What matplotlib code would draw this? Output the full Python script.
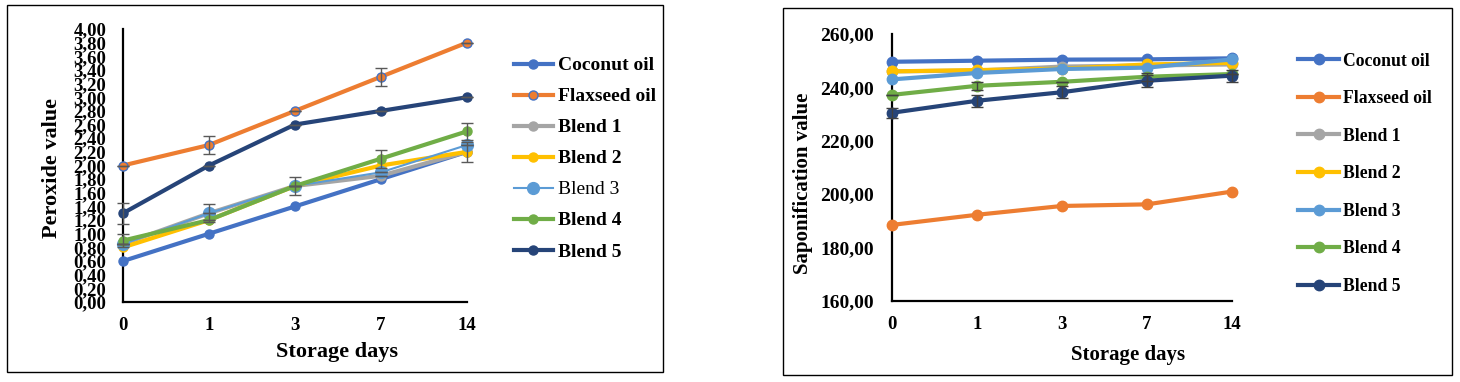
import matplotlib.pyplot as plt
from matplotlib.patches import Rectangle

plt.rcParams['font.family'] = ['Liberation Serif', 'DejaVu Serif']

# shared categories
days = ['0', '1', '3', '7', '14']
series = ['Coconut oil', 'Flaxseed oil', 'Blend 1', 'Blend 2', 'Blend 3', 'Blend 4', 'Blend 5']
colors = ['#4472C4', '#ED7D31', '#A5A5A5', '#FFC000', '#5B9BD5', '#70AD47', '#264478']

# peroxide value
perox_coconut = [0.60, 1.00, 1.40, 1.80, 2.20]
perox_flax = [2.00, 2.30, 2.80, 3.30, 3.80]
perox_b1 = [0.85, 1.30, 1.70, 1.85, 2.20]
perox_b2 = [0.80, 1.20, 1.70, 2.00, 2.20]
perox_b3 = [0.85, 1.30, 1.70, 1.90, 2.30]
perox_b4 = [0.90, 1.20, 1.70, 2.10, 2.50]
perox_b5 = [1.30, 2.00, 2.60, 2.80, 3.00]
perox_err = {
    'Flaxseed oil': [0, 0.13, 0, 0.13, 0],
    'Blend 3': [0, 0.13, 0, 0, 0],
    'Blend 4': [0.10, 0, 0.13, 0.13, 0.12],
    'Blend 5': [0.15, 0, 0, 0, 0],
    'Blend 1': [0, 0, 0, 0, 0.15],
}

# saponification value
sapon_coconut = [249.6, 250.0, 250.4, 250.5, 250.9]
sapon_flax = [188.5, 192.3, 195.6, 196.2, 201.0]
sapon_b1 = [246.0, 246.3, 247.8, 248.2, 248.6]
sapon_b2 = [246.0, 246.5, 247.0, 248.6, 249.2]
sapon_b3 = [243.0, 245.4, 246.9, 247.4, 250.5]
sapon_b4 = [237.2, 240.6, 242.1, 244.0, 245.0]
sapon_b5 = [230.5, 235.0, 238.2, 242.5, 244.4]
sapon_err = {
    'Blend 4': [0, 1.5, 0, 1.5, 0],
    'Blend 5': [1.8, 2.2, 2.2, 2.2, 2.2],
}

perox = [perox_coconut, perox_flax, perox_b1, perox_b2, perox_b3, perox_b4, perox_b5]
sapon = [sapon_coconut, sapon_flax, sapon_b1, sapon_b2, sapon_b3, sapon_b4, sapon_b5]
x = list(range(len(days)))

fig = plt.figure(figsize=(14.6, 3.82), dpi=100)

# outer frames
fig.patches.append(Rectangle((0.0048, 0.026), 0.4493, 0.961, transform=fig.transFigure,
                             fill=False, edgecolor='black', linewidth=1.0))
fig.patches.append(Rectangle((0.5363, 0.018), 0.4582, 0.961, transform=fig.transFigure,
                             fill=False, edgecolor='black', linewidth=1.0))

ax1 = fig.add_axes([0.0842, 0.2094, 0.2356, 0.7147])
ax2 = fig.add_axes([0.6110, 0.2120, 0.2329, 0.6990])


def style_axis(ax):
    for s in ['top', 'right']:
        ax.spines[s].set_visible(False)
    for s in ['left', 'bottom']:
        ax.spines[s].set_linewidth(1.6)
        ax.spines[s].set_color('black')
    ax.set_xlim(0, 4)
    ax.set_xticks(x)
    ax.set_xticklabels(days)
    ax.tick_params(length=0)
    for lab in ax.get_xticklabels() + ax.get_yticklabels():
        lab.set_fontweight('bold')


# left chart
handles1 = []
for name, vals, c in zip(series, perox, colors):
    lw, ms, mec = 3.0, 6.5, c
    if name == 'Blend 3':
        lw, ms = 1.5, 8.5
    if name == 'Flaxseed oil':
        mec = '#4472C4'
    ln, = ax1.plot(x, vals, color=c, lw=lw, marker='o', ms=ms, mfc=c, mec=mec,
                   mew=1.0, label=name, clip_on=False, zorder=3)
    handles1.append(ln)
    if name in perox_err:
        ax1.errorbar(x, vals, yerr=perox_err[name], fmt='none', ecolor='#595959',
                     elinewidth=1.0, capsize=4, capthick=1.0, zorder=4, clip_on=False)

ax1.set_ylim(0, 4)
ax1.set_yticks([i * 0.2 for i in range(21)])
ax1.set_yticklabels([f'{i * 0.2:.2f}'.replace('.', ',') for i in range(21)])
style_axis(ax1)
ax1.tick_params(axis='y', labelsize=13.5, pad=12)
ax1.tick_params(axis='x', labelsize=13.5, pad=11)
ax1.set_xlabel('Storage days', fontsize=16, fontweight='bold', va='center')
ax1.xaxis.set_label_coords(0.622, -0.183)
ax1.set_ylabel('Peroxide value', fontsize=16, fontweight='bold', va='center')
ax1.yaxis.set_label_coords(-0.206, 0.491)

leg1 = fig.legend(handles=handles1, loc='upper left', bbox_to_anchor=(0.352, 0.8515),
                  frameon=False, prop={'size': 14, 'weight': 'bold'}, handlelength=2.0,
                  handletextpad=0.25, labelspacing=0.69, borderpad=0, borderaxespad=0)
for t in leg1.get_texts():
    if t.get_text() == 'Blend 3':
        t.set_fontweight('normal')

# right chart
handles2 = []
for name, vals, c in zip(series, sapon, colors):
    ln, = ax2.plot(x, vals, color=c, lw=3.0, marker='o', ms=7.5, mfc=c, mec=c,
                   label=name, clip_on=False, zorder=3)
    handles2.append(ln)
    if name in sapon_err:
        ax2.errorbar(x, vals, yerr=sapon_err[name], fmt='none', ecolor='#404040',
                     elinewidth=1.0, capsize=4, capthick=1.0, zorder=4, clip_on=False)

ax2.set_ylim(160, 260)
ax2.set_yticks(range(160, 261, 20))
ax2.set_yticklabels([f'{v},00' for v in range(160, 261, 20)])
style_axis(ax2)
ax2.tick_params(axis='y', labelsize=14, pad=13)
ax2.tick_params(axis='x', labelsize=13.5, pad=11)
ax2.set_xlabel('Storage days', fontsize=15, fontweight='bold', va='center')
ax2.xaxis.set_label_coords(0.694, -0.202)
ax2.set_ylabel('Saponification value', fontsize=15, fontweight='bold', va='center')
ax2.yaxis.set_label_coords(-0.262, 0.442)

fig.legend(handles=handles2, loc='upper left', bbox_to_anchor=(0.889, 0.8625),
           frameon=False, prop={'size': 12.7, 'weight': 'bold'}, handlelength=2.35,
           handletextpad=0.2, labelspacing=1.165, borderpad=0, borderaxespad=0)

fig.savefig('out.png', dpi=100)
